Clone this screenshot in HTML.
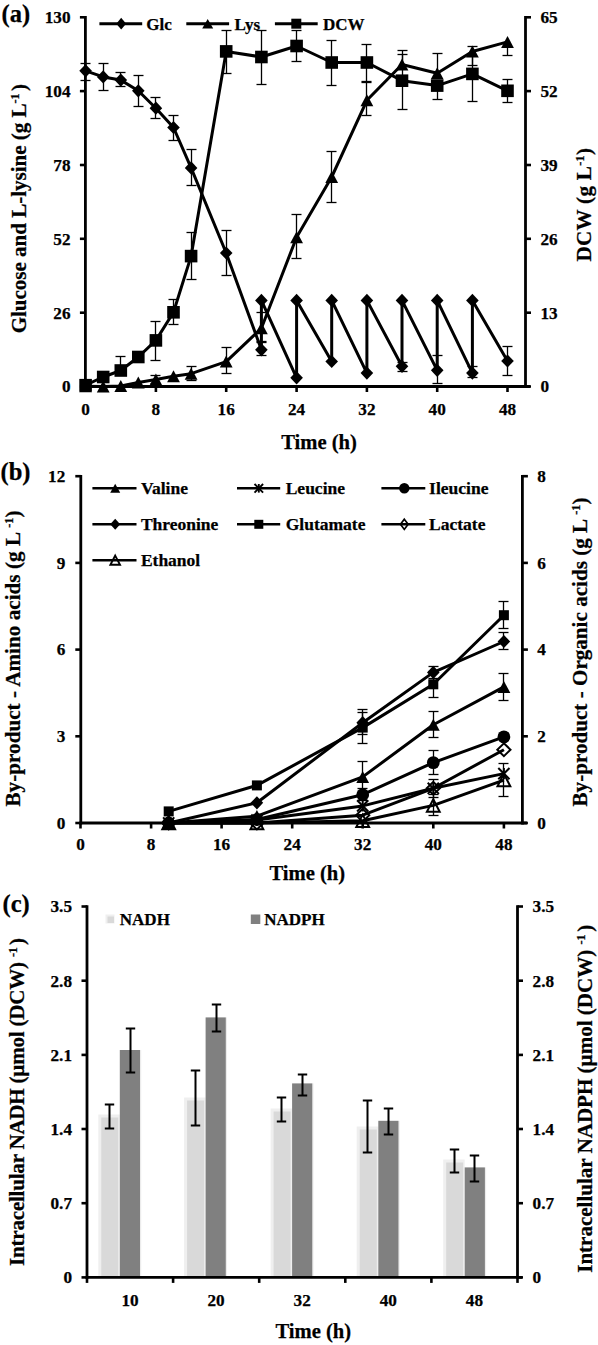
<!DOCTYPE html>
<html><head><meta charset="utf-8"><style>
html,body{margin:0;padding:0;background:#fff;}
svg{display:block;}
text{font-family:"Liberation Serif", serif;font-weight:bold;fill:#000;stroke:#000;stroke-width:0.25px;}
</style></head><body>
<svg width="598" height="1345" viewBox="0 0 598 1345">
<rect x="0" y="0" width="598" height="1345" fill="#fff"/>
<line x1="85.4" y1="16.0" x2="85.4" y2="387.9" stroke="#000" stroke-width="2.8"/>
<line x1="525.5" y1="16.0" x2="525.5" y2="387.9" stroke="#000" stroke-width="2.8"/>
<line x1="84.0" y1="386.5" x2="530.0" y2="386.5" stroke="#000" stroke-width="2.8"/>
<line x1="79.9" y1="386.5" x2="85.4" y2="386.5" stroke="#000" stroke-width="2.6"/>
<line x1="525.5" y1="386.5" x2="531.0" y2="386.5" stroke="#000" stroke-width="2.6"/>
<text x="70.5" y="392.3" font-size="17.2" text-anchor="end" >0</text>
<text x="540.5" y="392.3" font-size="17.2" text-anchor="start" >0</text>
<line x1="79.9" y1="312.7" x2="85.4" y2="312.7" stroke="#000" stroke-width="2.6"/>
<line x1="525.5" y1="312.7" x2="531.0" y2="312.7" stroke="#000" stroke-width="2.6"/>
<text x="70.5" y="318.5" font-size="17.2" text-anchor="end" >26</text>
<text x="540.5" y="318.5" font-size="17.2" text-anchor="start" >13</text>
<line x1="79.9" y1="238.8" x2="85.4" y2="238.8" stroke="#000" stroke-width="2.6"/>
<line x1="525.5" y1="238.8" x2="531.0" y2="238.8" stroke="#000" stroke-width="2.6"/>
<text x="70.5" y="244.6" font-size="17.2" text-anchor="end" >52</text>
<text x="540.5" y="244.6" font-size="17.2" text-anchor="start" >26</text>
<line x1="79.9" y1="165.0" x2="85.4" y2="165.0" stroke="#000" stroke-width="2.6"/>
<line x1="525.5" y1="165.0" x2="531.0" y2="165.0" stroke="#000" stroke-width="2.6"/>
<text x="70.5" y="170.8" font-size="17.2" text-anchor="end" >78</text>
<text x="540.5" y="170.8" font-size="17.2" text-anchor="start" >39</text>
<line x1="79.9" y1="91.1" x2="85.4" y2="91.1" stroke="#000" stroke-width="2.6"/>
<line x1="525.5" y1="91.1" x2="531.0" y2="91.1" stroke="#000" stroke-width="2.6"/>
<text x="70.5" y="96.9" font-size="17.2" text-anchor="end" >104</text>
<text x="540.5" y="96.9" font-size="17.2" text-anchor="start" >52</text>
<line x1="79.9" y1="17.3" x2="85.4" y2="17.3" stroke="#000" stroke-width="2.6"/>
<line x1="525.5" y1="17.3" x2="531.0" y2="17.3" stroke="#000" stroke-width="2.6"/>
<text x="70.5" y="23.1" font-size="17.2" text-anchor="end" >130</text>
<text x="540.5" y="23.1" font-size="17.2" text-anchor="start" >65</text>
<line x1="85.6" y1="386.5" x2="85.6" y2="392.0" stroke="#000" stroke-width="2.6"/>
<text x="85.6" y="415.0" font-size="17.2" text-anchor="middle" >0</text>
<line x1="155.9" y1="386.5" x2="155.9" y2="392.0" stroke="#000" stroke-width="2.6"/>
<text x="155.9" y="415.0" font-size="17.2" text-anchor="middle" >8</text>
<line x1="226.2" y1="386.5" x2="226.2" y2="392.0" stroke="#000" stroke-width="2.6"/>
<text x="226.2" y="415.0" font-size="17.2" text-anchor="middle" >16</text>
<line x1="296.6" y1="386.5" x2="296.6" y2="392.0" stroke="#000" stroke-width="2.6"/>
<text x="296.6" y="415.0" font-size="17.2" text-anchor="middle" >24</text>
<line x1="366.9" y1="386.5" x2="366.9" y2="392.0" stroke="#000" stroke-width="2.6"/>
<text x="366.9" y="415.0" font-size="17.2" text-anchor="middle" >32</text>
<line x1="437.2" y1="386.5" x2="437.2" y2="392.0" stroke="#000" stroke-width="2.6"/>
<text x="437.2" y="415.0" font-size="17.2" text-anchor="middle" >40</text>
<line x1="507.5" y1="386.5" x2="507.5" y2="392.0" stroke="#000" stroke-width="2.6"/>
<text x="507.5" y="415.0" font-size="17.2" text-anchor="middle" >48</text>
<text x="319.0" y="449.0" font-size="20.6" text-anchor="middle" >Time (h)</text>
<text x="1.5" y="21.6" font-size="24.5" text-anchor="start" >(a)</text>
<text transform="translate(25.6,208.6) rotate(-90)" font-size="21.1" text-anchor="middle"  textLength="249.5" lengthAdjust="spacing">Glucose and L-lysine (g L<tspan font-size="0.58em" dy="-0.57em">-1</tspan><tspan dy="0.33em" dx="2.5">)</tspan></text>
<text transform="translate(590.8,204.8) rotate(-90)" font-size="21.1" text-anchor="middle"  textLength="113.5" lengthAdjust="spacing">DCW (g L<tspan font-size="0.58em" dy="-0.57em">-1</tspan><tspan dy="0.33em" dx="0">)</tspan></text>
<line x1="80.5" y1="63.5" x2="90.5" y2="63.5" stroke="#000" stroke-width="1.3"/>
<line x1="80.5" y1="80.5" x2="90.5" y2="80.5" stroke="#000" stroke-width="1.3"/>
<line x1="85.5" y1="63.5" x2="85.5" y2="80.5" stroke="#000" stroke-width="1.3"/>
<line x1="98.5" y1="63.5" x2="108.5" y2="63.5" stroke="#000" stroke-width="1.3"/>
<line x1="98.5" y1="90.5" x2="108.5" y2="90.5" stroke="#000" stroke-width="1.3"/>
<line x1="103.5" y1="63.5" x2="103.5" y2="90.5" stroke="#000" stroke-width="1.3"/>
<line x1="115.5" y1="72.5" x2="125.5" y2="72.5" stroke="#000" stroke-width="1.3"/>
<line x1="115.5" y1="86.5" x2="125.5" y2="86.5" stroke="#000" stroke-width="1.3"/>
<line x1="120.5" y1="72.5" x2="120.5" y2="86.5" stroke="#000" stroke-width="1.3"/>
<line x1="133.5" y1="75.5" x2="143.5" y2="75.5" stroke="#000" stroke-width="1.3"/>
<line x1="133.5" y1="106.5" x2="143.5" y2="106.5" stroke="#000" stroke-width="1.3"/>
<line x1="138.5" y1="75.5" x2="138.5" y2="106.5" stroke="#000" stroke-width="1.3"/>
<line x1="150.5" y1="97.5" x2="160.5" y2="97.5" stroke="#000" stroke-width="1.3"/>
<line x1="150.5" y1="118.5" x2="160.5" y2="118.5" stroke="#000" stroke-width="1.3"/>
<line x1="155.5" y1="97.5" x2="155.5" y2="118.5" stroke="#000" stroke-width="1.3"/>
<line x1="168.5" y1="115.5" x2="178.5" y2="115.5" stroke="#000" stroke-width="1.3"/>
<line x1="168.5" y1="140.5" x2="178.5" y2="140.5" stroke="#000" stroke-width="1.3"/>
<line x1="173.5" y1="115.5" x2="173.5" y2="140.5" stroke="#000" stroke-width="1.3"/>
<line x1="186.5" y1="149.5" x2="196.5" y2="149.5" stroke="#000" stroke-width="1.3"/>
<line x1="186.5" y1="185.5" x2="196.5" y2="185.5" stroke="#000" stroke-width="1.3"/>
<line x1="191.5" y1="149.5" x2="191.5" y2="185.5" stroke="#000" stroke-width="1.3"/>
<line x1="221.5" y1="230.5" x2="231.5" y2="230.5" stroke="#000" stroke-width="1.3"/>
<line x1="221.5" y1="275.5" x2="231.5" y2="275.5" stroke="#000" stroke-width="1.3"/>
<line x1="226.5" y1="230.5" x2="226.5" y2="275.5" stroke="#000" stroke-width="1.3"/>
<line x1="256.5" y1="341.5" x2="266.5" y2="341.5" stroke="#000" stroke-width="1.3"/>
<line x1="256.5" y1="355.5" x2="266.5" y2="355.5" stroke="#000" stroke-width="1.3"/>
<line x1="261.5" y1="341.5" x2="261.5" y2="355.5" stroke="#000" stroke-width="1.3"/>
<line x1="397.5" y1="362.5" x2="407.5" y2="362.5" stroke="#000" stroke-width="1.3"/>
<line x1="397.5" y1="371.5" x2="407.5" y2="371.5" stroke="#000" stroke-width="1.3"/>
<line x1="402.5" y1="362.5" x2="402.5" y2="371.5" stroke="#000" stroke-width="1.3"/>
<line x1="432.5" y1="355.5" x2="442.5" y2="355.5" stroke="#000" stroke-width="1.3"/>
<line x1="432.5" y1="383.5" x2="442.5" y2="383.5" stroke="#000" stroke-width="1.3"/>
<line x1="437.5" y1="355.5" x2="437.5" y2="383.5" stroke="#000" stroke-width="1.3"/>
<line x1="467.5" y1="366.5" x2="477.5" y2="366.5" stroke="#000" stroke-width="1.3"/>
<line x1="467.5" y1="377.5" x2="477.5" y2="377.5" stroke="#000" stroke-width="1.3"/>
<line x1="472.5" y1="366.5" x2="472.5" y2="377.5" stroke="#000" stroke-width="1.3"/>
<line x1="502.5" y1="346.5" x2="512.5" y2="346.5" stroke="#000" stroke-width="1.3"/>
<line x1="502.5" y1="375.5" x2="512.5" y2="375.5" stroke="#000" stroke-width="1.3"/>
<line x1="507.5" y1="346.5" x2="507.5" y2="375.5" stroke="#000" stroke-width="1.3"/>
<line x1="150.5" y1="375.5" x2="160.5" y2="375.5" stroke="#000" stroke-width="1.3"/>
<line x1="150.5" y1="383.5" x2="160.5" y2="383.5" stroke="#000" stroke-width="1.3"/>
<line x1="155.5" y1="375.5" x2="155.5" y2="383.5" stroke="#000" stroke-width="1.3"/>
<line x1="186.5" y1="366.5" x2="196.5" y2="366.5" stroke="#000" stroke-width="1.3"/>
<line x1="186.5" y1="380.5" x2="196.5" y2="380.5" stroke="#000" stroke-width="1.3"/>
<line x1="191.5" y1="366.5" x2="191.5" y2="380.5" stroke="#000" stroke-width="1.3"/>
<line x1="221.5" y1="347.5" x2="231.5" y2="347.5" stroke="#000" stroke-width="1.3"/>
<line x1="221.5" y1="373.5" x2="231.5" y2="373.5" stroke="#000" stroke-width="1.3"/>
<line x1="226.5" y1="347.5" x2="226.5" y2="373.5" stroke="#000" stroke-width="1.3"/>
<line x1="256.5" y1="312.5" x2="266.5" y2="312.5" stroke="#000" stroke-width="1.3"/>
<line x1="256.5" y1="342.5" x2="266.5" y2="342.5" stroke="#000" stroke-width="1.3"/>
<line x1="261.5" y1="312.5" x2="261.5" y2="342.5" stroke="#000" stroke-width="1.3"/>
<line x1="291.5" y1="214.5" x2="301.5" y2="214.5" stroke="#000" stroke-width="1.3"/>
<line x1="291.5" y1="258.5" x2="301.5" y2="258.5" stroke="#000" stroke-width="1.3"/>
<line x1="296.5" y1="214.5" x2="296.5" y2="258.5" stroke="#000" stroke-width="1.3"/>
<line x1="326.5" y1="151.5" x2="336.5" y2="151.5" stroke="#000" stroke-width="1.3"/>
<line x1="326.5" y1="202.5" x2="336.5" y2="202.5" stroke="#000" stroke-width="1.3"/>
<line x1="331.5" y1="151.5" x2="331.5" y2="202.5" stroke="#000" stroke-width="1.3"/>
<line x1="361.5" y1="81.5" x2="371.5" y2="81.5" stroke="#000" stroke-width="1.3"/>
<line x1="361.5" y1="115.5" x2="371.5" y2="115.5" stroke="#000" stroke-width="1.3"/>
<line x1="366.5" y1="81.5" x2="366.5" y2="115.5" stroke="#000" stroke-width="1.3"/>
<line x1="397.5" y1="50.5" x2="407.5" y2="50.5" stroke="#000" stroke-width="1.3"/>
<line x1="402.5" y1="50.5" x2="402.5" y2="64.5" stroke="#000" stroke-width="1.3"/>
<line x1="432.5" y1="53.5" x2="442.5" y2="53.5" stroke="#000" stroke-width="1.3"/>
<line x1="437.5" y1="53.5" x2="437.5" y2="73.2" stroke="#000" stroke-width="1.3"/>
<line x1="467.5" y1="65.5" x2="477.5" y2="65.5" stroke="#000" stroke-width="1.3"/>
<line x1="472.5" y1="51.5" x2="472.5" y2="65.5" stroke="#000" stroke-width="1.3"/>
<line x1="502.5" y1="55.5" x2="512.5" y2="55.5" stroke="#000" stroke-width="1.3"/>
<line x1="507.5" y1="41.9" x2="507.5" y2="55.5" stroke="#000" stroke-width="1.3"/>
<line x1="115.5" y1="356.5" x2="125.5" y2="356.5" stroke="#000" stroke-width="1.3"/>
<line x1="120.5" y1="356.5" x2="120.5" y2="370.5" stroke="#000" stroke-width="1.3"/>
<line x1="150.5" y1="321.5" x2="160.5" y2="321.5" stroke="#000" stroke-width="1.3"/>
<line x1="150.5" y1="360.5" x2="160.5" y2="360.5" stroke="#000" stroke-width="1.3"/>
<line x1="155.5" y1="321.5" x2="155.5" y2="360.5" stroke="#000" stroke-width="1.3"/>
<line x1="168.5" y1="299.5" x2="178.5" y2="299.5" stroke="#000" stroke-width="1.3"/>
<line x1="168.5" y1="324.5" x2="178.5" y2="324.5" stroke="#000" stroke-width="1.3"/>
<line x1="173.5" y1="299.5" x2="173.5" y2="324.5" stroke="#000" stroke-width="1.3"/>
<line x1="186.5" y1="232.5" x2="196.5" y2="232.5" stroke="#000" stroke-width="1.3"/>
<line x1="186.5" y1="279.5" x2="196.5" y2="279.5" stroke="#000" stroke-width="1.3"/>
<line x1="191.5" y1="232.5" x2="191.5" y2="279.5" stroke="#000" stroke-width="1.3"/>
<line x1="221.5" y1="30.5" x2="231.5" y2="30.5" stroke="#000" stroke-width="1.3"/>
<line x1="221.5" y1="73.5" x2="231.5" y2="73.5" stroke="#000" stroke-width="1.3"/>
<line x1="226.5" y1="30.5" x2="226.5" y2="73.5" stroke="#000" stroke-width="1.3"/>
<line x1="256.5" y1="30.5" x2="266.5" y2="30.5" stroke="#000" stroke-width="1.3"/>
<line x1="256.5" y1="84.5" x2="266.5" y2="84.5" stroke="#000" stroke-width="1.3"/>
<line x1="261.5" y1="30.5" x2="261.5" y2="84.5" stroke="#000" stroke-width="1.3"/>
<line x1="291.5" y1="30.5" x2="301.5" y2="30.5" stroke="#000" stroke-width="1.3"/>
<line x1="291.5" y1="61.5" x2="301.5" y2="61.5" stroke="#000" stroke-width="1.3"/>
<line x1="296.5" y1="30.5" x2="296.5" y2="61.5" stroke="#000" stroke-width="1.3"/>
<line x1="326.5" y1="40.5" x2="336.5" y2="40.5" stroke="#000" stroke-width="1.3"/>
<line x1="326.5" y1="85.5" x2="336.5" y2="85.5" stroke="#000" stroke-width="1.3"/>
<line x1="331.5" y1="40.5" x2="331.5" y2="85.5" stroke="#000" stroke-width="1.3"/>
<line x1="361.5" y1="44.5" x2="371.5" y2="44.5" stroke="#000" stroke-width="1.3"/>
<line x1="361.5" y1="82.5" x2="371.5" y2="82.5" stroke="#000" stroke-width="1.3"/>
<line x1="366.5" y1="44.5" x2="366.5" y2="82.5" stroke="#000" stroke-width="1.3"/>
<line x1="397.5" y1="54.5" x2="407.5" y2="54.5" stroke="#000" stroke-width="1.3"/>
<line x1="397.5" y1="109.5" x2="407.5" y2="109.5" stroke="#000" stroke-width="1.3"/>
<line x1="402.5" y1="54.5" x2="402.5" y2="109.5" stroke="#000" stroke-width="1.3"/>
<line x1="432.5" y1="99.5" x2="442.5" y2="99.5" stroke="#000" stroke-width="1.3"/>
<line x1="437.5" y1="85.6" x2="437.5" y2="99.5" stroke="#000" stroke-width="1.3"/>
<line x1="467.5" y1="46.5" x2="477.5" y2="46.5" stroke="#000" stroke-width="1.3"/>
<line x1="467.5" y1="101.5" x2="477.5" y2="101.5" stroke="#000" stroke-width="1.3"/>
<line x1="472.5" y1="46.5" x2="472.5" y2="101.5" stroke="#000" stroke-width="1.3"/>
<line x1="502.5" y1="79.5" x2="512.5" y2="79.5" stroke="#000" stroke-width="1.3"/>
<line x1="502.5" y1="102.5" x2="512.5" y2="102.5" stroke="#000" stroke-width="1.3"/>
<line x1="507.5" y1="79.5" x2="507.5" y2="102.5" stroke="#000" stroke-width="1.3"/>
<polyline points="85.6,70.8 103.2,76.9 120.8,80.1 138.3,90.8 155.9,108.2 173.5,127.5 191.1,167.9 226.2,253.0 261.4,349.8 261.4,300.4 296.6,377.8 296.6,300.4 331.7,361.5 331.7,300.4 366.9,373.1 366.9,300.4 402.0,366.3 402.0,300.4 437.2,370.3 437.2,300.4 472.4,373.1 472.4,300.4 507.5,361.0" fill="none" stroke="#000" stroke-width="3.0" stroke-linejoin="round"/>
<polyline points="85.6,386.3 103.2,386.5 120.8,386.0 138.3,382.5 155.9,379.5 173.5,376.3 191.1,373.7 226.2,361.6 261.4,328.2 296.6,237.3 331.7,177.0 366.9,100.3 402.0,64.5 437.2,73.2 472.4,51.5 507.5,41.9" fill="none" stroke="#000" stroke-width="3.0" stroke-linejoin="round"/>
<polyline points="85.6,385.2 103.2,377.0 120.8,370.5 138.3,357.0 155.9,340.4 173.5,312.3 191.1,256.1 226.2,51.4 261.4,57.0 296.6,46.0 331.7,62.5 366.9,62.5 402.0,80.7 437.2,85.6 472.4,73.9 507.5,90.8" fill="none" stroke="#000" stroke-width="3.0" stroke-linejoin="round"/>
<polygon points="85.6,64.2 91.9,70.8 85.6,77.4 79.3,70.8" fill="#000"/>
<polygon points="103.2,70.3 109.5,76.9 103.2,83.5 96.9,76.9" fill="#000"/>
<polygon points="120.8,73.5 127.1,80.1 120.8,86.7 114.5,80.1" fill="#000"/>
<polygon points="138.3,84.2 144.6,90.8 138.3,97.4 132.0,90.8" fill="#000"/>
<polygon points="155.9,101.6 162.2,108.2 155.9,114.8 149.6,108.2" fill="#000"/>
<polygon points="173.5,120.9 179.8,127.5 173.5,134.1 167.2,127.5" fill="#000"/>
<polygon points="191.1,161.3 197.4,167.9 191.1,174.5 184.8,167.9" fill="#000"/>
<polygon points="226.2,246.4 232.5,253.0 226.2,259.6 219.9,253.0" fill="#000"/>
<polygon points="261.4,343.2 267.7,349.8 261.4,356.4 255.1,349.8" fill="#000"/>
<polygon points="261.4,293.8 267.7,300.4 261.4,307.0 255.1,300.4" fill="#000"/>
<polygon points="296.6,371.2 302.9,377.8 296.6,384.4 290.3,377.8" fill="#000"/>
<polygon points="296.6,293.8 302.9,300.4 296.6,307.0 290.3,300.4" fill="#000"/>
<polygon points="331.7,354.9 338.0,361.5 331.7,368.1 325.4,361.5" fill="#000"/>
<polygon points="331.7,293.8 338.0,300.4 331.7,307.0 325.4,300.4" fill="#000"/>
<polygon points="366.9,366.5 373.2,373.1 366.9,379.7 360.6,373.1" fill="#000"/>
<polygon points="366.9,293.8 373.2,300.4 366.9,307.0 360.6,300.4" fill="#000"/>
<polygon points="402.0,359.7 408.3,366.3 402.0,372.9 395.7,366.3" fill="#000"/>
<polygon points="402.0,293.8 408.3,300.4 402.0,307.0 395.7,300.4" fill="#000"/>
<polygon points="437.2,363.7 443.5,370.3 437.2,376.9 430.9,370.3" fill="#000"/>
<polygon points="437.2,293.8 443.5,300.4 437.2,307.0 430.9,300.4" fill="#000"/>
<polygon points="472.4,366.5 478.7,373.1 472.4,379.7 466.1,373.1" fill="#000"/>
<polygon points="472.4,293.8 478.7,300.4 472.4,307.0 466.1,300.4" fill="#000"/>
<polygon points="507.5,354.4 513.8,361.0 507.5,367.6 501.2,361.0" fill="#000"/>
<polygon points="85.6,380.3 92.0,392.3 79.2,392.3" fill="#000"/>
<polygon points="103.2,380.5 109.6,392.5 96.8,392.5" fill="#000"/>
<polygon points="120.8,380.0 127.2,392.0 114.4,392.0" fill="#000"/>
<polygon points="138.3,376.5 144.7,388.5 131.9,388.5" fill="#000"/>
<polygon points="155.9,373.5 162.3,385.5 149.5,385.5" fill="#000"/>
<polygon points="173.5,370.3 179.9,382.3 167.1,382.3" fill="#000"/>
<polygon points="191.1,367.7 197.5,379.7 184.7,379.7" fill="#000"/>
<polygon points="226.2,355.6 232.6,367.6 219.8,367.6" fill="#000"/>
<polygon points="261.4,322.2 267.8,334.2 255.0,334.2" fill="#000"/>
<polygon points="296.6,231.3 303.0,243.3 290.2,243.3" fill="#000"/>
<polygon points="331.7,171.0 338.1,183.0 325.3,183.0" fill="#000"/>
<polygon points="366.9,94.3 373.3,106.3 360.5,106.3" fill="#000"/>
<polygon points="402.0,58.5 408.4,70.5 395.6,70.5" fill="#000"/>
<polygon points="437.2,67.2 443.6,79.2 430.8,79.2" fill="#000"/>
<polygon points="472.4,45.5 478.8,57.5 466.0,57.5" fill="#000"/>
<polygon points="507.5,35.9 513.9,47.9 501.1,47.9" fill="#000"/>
<rect x="79.3" y="378.9" width="12.6" height="12.6" fill="#000"/>
<rect x="96.9" y="370.7" width="12.6" height="12.6" fill="#000"/>
<rect x="114.5" y="364.2" width="12.6" height="12.6" fill="#000"/>
<rect x="132.0" y="350.7" width="12.6" height="12.6" fill="#000"/>
<rect x="149.6" y="334.1" width="12.6" height="12.6" fill="#000"/>
<rect x="167.2" y="306.0" width="12.6" height="12.6" fill="#000"/>
<rect x="184.8" y="249.8" width="12.6" height="12.6" fill="#000"/>
<rect x="219.9" y="45.1" width="12.6" height="12.6" fill="#000"/>
<rect x="255.1" y="50.7" width="12.6" height="12.6" fill="#000"/>
<rect x="290.3" y="39.7" width="12.6" height="12.6" fill="#000"/>
<rect x="325.4" y="56.2" width="12.6" height="12.6" fill="#000"/>
<rect x="360.6" y="56.2" width="12.6" height="12.6" fill="#000"/>
<rect x="395.7" y="74.4" width="12.6" height="12.6" fill="#000"/>
<rect x="430.9" y="79.3" width="12.6" height="12.6" fill="#000"/>
<rect x="466.1" y="67.6" width="12.6" height="12.6" fill="#000"/>
<rect x="501.2" y="84.5" width="12.6" height="12.6" fill="#000"/>
<line x1="99.4" y1="23.7" x2="142.2" y2="23.7" stroke="#000" stroke-width="3"/>
<polygon points="121.2,17.8 126.1,23.7 121.2,29.6 116.3,23.7" fill="#000"/>
<text x="146.2" y="29.6" font-size="17" text-anchor="start" >Glc</text>
<line x1="186.3" y1="23.7" x2="229.1" y2="23.7" stroke="#000" stroke-width="3"/>
<polygon points="207.7,18.9 213.2,28.4 202.2,28.4" fill="#000"/>
<text x="234.5" y="29.6" font-size="17" text-anchor="start" >Lys</text>
<line x1="274.9" y1="23.7" x2="317.7" y2="23.7" stroke="#000" stroke-width="3"/>
<rect x="291.3" y="18.7" width="10" height="10" fill="#000"/>
<text x="323.0" y="29.6" font-size="17" text-anchor="start" >DCW</text>
<line x1="80.8" y1="474.9" x2="80.8" y2="824.4" stroke="#000" stroke-width="2.8"/>
<line x1="522.4" y1="474.9" x2="522.4" y2="824.4" stroke="#000" stroke-width="2.8"/>
<line x1="79.4" y1="823.0" x2="526.9" y2="823.0" stroke="#000" stroke-width="2.8"/>
<line x1="75.3" y1="823.0" x2="80.8" y2="823.0" stroke="#000" stroke-width="2.6"/>
<line x1="522.4" y1="823.0" x2="527.9" y2="823.0" stroke="#000" stroke-width="2.6"/>
<text x="65.3" y="828.8" font-size="17.2" text-anchor="end" >0</text>
<text x="537.2" y="828.8" font-size="17.2" text-anchor="start" >0</text>
<line x1="75.3" y1="736.3" x2="80.8" y2="736.3" stroke="#000" stroke-width="2.6"/>
<line x1="522.4" y1="736.3" x2="527.9" y2="736.3" stroke="#000" stroke-width="2.6"/>
<text x="65.3" y="742.1" font-size="17.2" text-anchor="end" >3</text>
<text x="537.2" y="742.1" font-size="17.2" text-anchor="start" >2</text>
<line x1="75.3" y1="649.6" x2="80.8" y2="649.6" stroke="#000" stroke-width="2.6"/>
<line x1="522.4" y1="649.6" x2="527.9" y2="649.6" stroke="#000" stroke-width="2.6"/>
<text x="65.3" y="655.4" font-size="17.2" text-anchor="end" >6</text>
<text x="537.2" y="655.4" font-size="17.2" text-anchor="start" >4</text>
<line x1="75.3" y1="562.9" x2="80.8" y2="562.9" stroke="#000" stroke-width="2.6"/>
<line x1="522.4" y1="562.9" x2="527.9" y2="562.9" stroke="#000" stroke-width="2.6"/>
<text x="65.3" y="568.7" font-size="17.2" text-anchor="end" >9</text>
<text x="537.2" y="568.7" font-size="17.2" text-anchor="start" >6</text>
<line x1="75.3" y1="476.2" x2="80.8" y2="476.2" stroke="#000" stroke-width="2.6"/>
<line x1="522.4" y1="476.2" x2="527.9" y2="476.2" stroke="#000" stroke-width="2.6"/>
<text x="65.3" y="482.0" font-size="17.2" text-anchor="end" >12</text>
<text x="537.2" y="482.0" font-size="17.2" text-anchor="start" >8</text>
<line x1="80.5" y1="823.0" x2="80.5" y2="828.5" stroke="#000" stroke-width="2.6"/>
<text x="80.5" y="849.5" font-size="17.2" text-anchor="middle" >0</text>
<line x1="151.1" y1="823.0" x2="151.1" y2="828.5" stroke="#000" stroke-width="2.6"/>
<text x="151.1" y="849.5" font-size="17.2" text-anchor="middle" >8</text>
<line x1="221.6" y1="823.0" x2="221.6" y2="828.5" stroke="#000" stroke-width="2.6"/>
<text x="221.6" y="849.5" font-size="17.2" text-anchor="middle" >16</text>
<line x1="292.2" y1="823.0" x2="292.2" y2="828.5" stroke="#000" stroke-width="2.6"/>
<text x="292.2" y="849.5" font-size="17.2" text-anchor="middle" >24</text>
<line x1="362.7" y1="823.0" x2="362.7" y2="828.5" stroke="#000" stroke-width="2.6"/>
<text x="362.7" y="849.5" font-size="17.2" text-anchor="middle" >32</text>
<line x1="433.3" y1="823.0" x2="433.3" y2="828.5" stroke="#000" stroke-width="2.6"/>
<text x="433.3" y="849.5" font-size="17.2" text-anchor="middle" >40</text>
<line x1="503.9" y1="823.0" x2="503.9" y2="828.5" stroke="#000" stroke-width="2.6"/>
<text x="503.9" y="849.5" font-size="17.2" text-anchor="middle" >48</text>
<text x="307.3" y="880.2" font-size="20.6" text-anchor="middle" >Time (h)</text>
<text x="0.5" y="480.3" font-size="24.5" text-anchor="start" >(b)</text>
<text transform="translate(20.3,658.5) rotate(-90)" font-size="21.1" text-anchor="middle"  textLength="296" lengthAdjust="spacing">By-product - Amino acids (g L <tspan font-size="0.58em" dy="-0.57em">-1</tspan><tspan dy="0.33em" dx="0">)</tspan></text>
<text transform="translate(587.2,652.0) rotate(-90)" font-size="21.1" text-anchor="middle"  textLength="309" lengthAdjust="spacing">By-product - Organic acids (g L <tspan font-size="0.58em" dy="-0.57em">-1</tspan><tspan dy="0.33em" dx="0">)</tspan></text>
<line x1="357.5" y1="761.5" x2="367.5" y2="761.5" stroke="#000" stroke-width="1.3"/>
<line x1="357.5" y1="792.5" x2="367.5" y2="792.5" stroke="#000" stroke-width="1.3"/>
<line x1="362.5" y1="761.5" x2="362.5" y2="792.5" stroke="#000" stroke-width="1.3"/>
<line x1="428.5" y1="711.5" x2="438.5" y2="711.5" stroke="#000" stroke-width="1.3"/>
<line x1="428.5" y1="737.5" x2="438.5" y2="737.5" stroke="#000" stroke-width="1.3"/>
<line x1="433.5" y1="711.5" x2="433.5" y2="737.5" stroke="#000" stroke-width="1.3"/>
<line x1="498.5" y1="673.5" x2="508.5" y2="673.5" stroke="#000" stroke-width="1.3"/>
<line x1="498.5" y1="700.5" x2="508.5" y2="700.5" stroke="#000" stroke-width="1.3"/>
<line x1="503.5" y1="673.5" x2="503.5" y2="700.5" stroke="#000" stroke-width="1.3"/>
<line x1="428.5" y1="779.5" x2="438.5" y2="779.5" stroke="#000" stroke-width="1.3"/>
<line x1="428.5" y1="797.5" x2="438.5" y2="797.5" stroke="#000" stroke-width="1.3"/>
<line x1="433.5" y1="779.5" x2="433.5" y2="797.5" stroke="#000" stroke-width="1.3"/>
<line x1="357.5" y1="788.5" x2="367.5" y2="788.5" stroke="#000" stroke-width="1.3"/>
<line x1="357.5" y1="800.5" x2="367.5" y2="800.5" stroke="#000" stroke-width="1.3"/>
<line x1="362.5" y1="788.5" x2="362.5" y2="800.5" stroke="#000" stroke-width="1.3"/>
<line x1="428.5" y1="750.5" x2="438.5" y2="750.5" stroke="#000" stroke-width="1.3"/>
<line x1="428.5" y1="774.5" x2="438.5" y2="774.5" stroke="#000" stroke-width="1.3"/>
<line x1="433.5" y1="750.5" x2="433.5" y2="774.5" stroke="#000" stroke-width="1.3"/>
<line x1="357.5" y1="709.5" x2="367.5" y2="709.5" stroke="#000" stroke-width="1.3"/>
<line x1="357.5" y1="734.5" x2="367.5" y2="734.5" stroke="#000" stroke-width="1.3"/>
<line x1="362.5" y1="709.5" x2="362.5" y2="734.5" stroke="#000" stroke-width="1.3"/>
<line x1="428.5" y1="666.5" x2="438.5" y2="666.5" stroke="#000" stroke-width="1.3"/>
<line x1="428.5" y1="678.5" x2="438.5" y2="678.5" stroke="#000" stroke-width="1.3"/>
<line x1="433.5" y1="666.5" x2="433.5" y2="678.5" stroke="#000" stroke-width="1.3"/>
<line x1="498.5" y1="632.5" x2="508.5" y2="632.5" stroke="#000" stroke-width="1.3"/>
<line x1="498.5" y1="649.5" x2="508.5" y2="649.5" stroke="#000" stroke-width="1.3"/>
<line x1="503.5" y1="632.5" x2="503.5" y2="649.5" stroke="#000" stroke-width="1.3"/>
<line x1="357.5" y1="712.5" x2="367.5" y2="712.5" stroke="#000" stroke-width="1.3"/>
<line x1="357.5" y1="743.5" x2="367.5" y2="743.5" stroke="#000" stroke-width="1.3"/>
<line x1="362.5" y1="712.5" x2="362.5" y2="743.5" stroke="#000" stroke-width="1.3"/>
<line x1="428.5" y1="671.5" x2="438.5" y2="671.5" stroke="#000" stroke-width="1.3"/>
<line x1="428.5" y1="697.5" x2="438.5" y2="697.5" stroke="#000" stroke-width="1.3"/>
<line x1="433.5" y1="671.5" x2="433.5" y2="697.5" stroke="#000" stroke-width="1.3"/>
<line x1="498.5" y1="601.5" x2="508.5" y2="601.5" stroke="#000" stroke-width="1.3"/>
<line x1="498.5" y1="628.5" x2="508.5" y2="628.5" stroke="#000" stroke-width="1.3"/>
<line x1="503.5" y1="601.5" x2="503.5" y2="628.5" stroke="#000" stroke-width="1.3"/>
<line x1="428.5" y1="794.5" x2="438.5" y2="794.5" stroke="#000" stroke-width="1.3"/>
<line x1="428.5" y1="815.5" x2="438.5" y2="815.5" stroke="#000" stroke-width="1.3"/>
<line x1="433.5" y1="794.5" x2="433.5" y2="815.5" stroke="#000" stroke-width="1.3"/>
<line x1="498.5" y1="763.5" x2="508.5" y2="763.5" stroke="#000" stroke-width="1.3"/>
<line x1="498.5" y1="796.5" x2="508.5" y2="796.5" stroke="#000" stroke-width="1.3"/>
<line x1="503.5" y1="763.5" x2="503.5" y2="796.5" stroke="#000" stroke-width="1.3"/>
<polyline points="168.7,823.0 256.9,816.1 362.7,776.9 433.3,724.7 503.9,686.9" fill="none" stroke="#000" stroke-width="3.0" stroke-linejoin="round"/>
<polyline points="168.7,823.0 256.9,820.1 362.7,805.9 433.3,788.3 503.9,773.6" fill="none" stroke="#000" stroke-width="3.0" stroke-linejoin="round"/>
<polyline points="168.7,823.0 256.9,819.5 362.7,794.7 433.3,762.6 503.9,736.9" fill="none" stroke="#000" stroke-width="3.0" stroke-linejoin="round"/>
<polyline points="168.7,823.0 256.9,802.8 362.7,722.7 433.3,672.4 503.9,641.5" fill="none" stroke="#000" stroke-width="3.0" stroke-linejoin="round"/>
<polyline points="168.7,811.4 256.9,785.4 362.7,727.6 433.3,684.3 503.9,615.2" fill="none" stroke="#000" stroke-width="3.0" stroke-linejoin="round"/>
<polyline points="168.7,823.0 256.9,823.0 362.7,815.2 433.3,788.3 503.9,749.7" fill="none" stroke="#000" stroke-width="3.0" stroke-linejoin="round"/>
<polyline points="168.7,823.0 256.9,823.0 362.7,820.8 433.3,805.4 503.9,780.1" fill="none" stroke="#000" stroke-width="3.0" stroke-linejoin="round"/>
<polygon points="168.7,817.0 175.1,829.0 162.3,829.0" fill="#000"/>
<polygon points="256.9,810.1 263.3,822.1 250.5,822.1" fill="#000"/>
<polygon points="362.7,770.9 369.1,782.9 356.3,782.9" fill="#000"/>
<polygon points="433.3,718.7 439.7,730.7 426.9,730.7" fill="#000"/>
<polygon points="503.9,680.9 510.3,692.9 497.5,692.9" fill="#000"/>
<line x1="163.1" y1="817.4" x2="174.3" y2="828.6" stroke="#000" stroke-width="2.0"/>
<line x1="163.1" y1="828.6" x2="174.3" y2="817.4" stroke="#000" stroke-width="2.0"/>
<line x1="168.7" y1="817.4" x2="168.7" y2="828.6" stroke="#000" stroke-width="2.0"/>
<line x1="251.3" y1="814.5" x2="262.5" y2="825.7" stroke="#000" stroke-width="2.0"/>
<line x1="251.3" y1="825.7" x2="262.5" y2="814.5" stroke="#000" stroke-width="2.0"/>
<line x1="256.9" y1="814.5" x2="256.9" y2="825.7" stroke="#000" stroke-width="2.0"/>
<line x1="357.1" y1="800.3" x2="368.3" y2="811.5" stroke="#000" stroke-width="2.0"/>
<line x1="357.1" y1="811.5" x2="368.3" y2="800.3" stroke="#000" stroke-width="2.0"/>
<line x1="362.7" y1="800.3" x2="362.7" y2="811.5" stroke="#000" stroke-width="2.0"/>
<line x1="427.7" y1="782.7" x2="438.9" y2="793.9" stroke="#000" stroke-width="2.0"/>
<line x1="427.7" y1="793.9" x2="438.9" y2="782.7" stroke="#000" stroke-width="2.0"/>
<line x1="433.3" y1="782.7" x2="433.3" y2="793.9" stroke="#000" stroke-width="2.0"/>
<line x1="498.3" y1="768.0" x2="509.5" y2="779.2" stroke="#000" stroke-width="2.0"/>
<line x1="498.3" y1="779.2" x2="509.5" y2="768.0" stroke="#000" stroke-width="2.0"/>
<line x1="503.9" y1="768.0" x2="503.9" y2="779.2" stroke="#000" stroke-width="2.0"/>
<circle cx="168.7" cy="823.0" r="6.4" fill="#000"/>
<circle cx="256.9" cy="819.5" r="6.4" fill="#000"/>
<circle cx="362.7" cy="794.7" r="6.4" fill="#000"/>
<circle cx="433.3" cy="762.6" r="6.4" fill="#000"/>
<circle cx="503.9" cy="736.9" r="6.4" fill="#000"/>
<polygon points="168.7,816.4 175.0,823.0 168.7,829.6 162.4,823.0" fill="#000"/>
<polygon points="256.9,796.2 263.2,802.8 256.9,809.4 250.6,802.8" fill="#000"/>
<polygon points="362.7,716.1 369.0,722.7 362.7,729.3 356.4,722.7" fill="#000"/>
<polygon points="433.3,665.8 439.6,672.4 433.3,679.0 427.0,672.4" fill="#000"/>
<polygon points="503.9,634.9 510.2,641.5 503.9,648.1 497.6,641.5" fill="#000"/>
<rect x="163.7" y="806.4" width="10" height="10" fill="#000"/>
<rect x="251.9" y="780.4" width="10" height="10" fill="#000"/>
<rect x="357.7" y="722.6" width="10" height="10" fill="#000"/>
<rect x="428.3" y="679.3" width="10" height="10" fill="#000"/>
<rect x="498.9" y="610.2" width="10" height="10" fill="#000"/>
<polygon points="168.7,816.6 175.3,823.0 168.7,829.4 162.1,823.0" fill="none" stroke="#000" stroke-width="2.0" stroke-linejoin="miter"/>
<polygon points="256.9,816.6 263.5,823.0 256.9,829.4 250.3,823.0" fill="none" stroke="#000" stroke-width="2.0" stroke-linejoin="miter"/>
<polygon points="362.7,808.8 369.3,815.2 362.7,821.6 356.1,815.2" fill="none" stroke="#000" stroke-width="2.0" stroke-linejoin="miter"/>
<polygon points="433.3,781.9 439.9,788.3 433.3,794.7 426.7,788.3" fill="none" stroke="#000" stroke-width="2.0" stroke-linejoin="miter"/>
<polygon points="503.9,743.3 510.5,749.7 503.9,756.1 497.3,749.7" fill="none" stroke="#000" stroke-width="2.0" stroke-linejoin="miter"/>
<polygon points="168.7,816.8 175.1,829.2 162.3,829.2" fill="none" stroke="#000" stroke-width="2.0"/>
<polygon points="256.9,816.8 263.3,829.2 250.5,829.2" fill="none" stroke="#000" stroke-width="2.0"/>
<polygon points="362.7,814.6 369.1,827.1 356.3,827.1" fill="none" stroke="#000" stroke-width="2.0"/>
<polygon points="433.3,799.2 439.7,811.7 426.9,811.7" fill="none" stroke="#000" stroke-width="2.0"/>
<polygon points="503.9,773.8 510.3,786.3 497.5,786.3" fill="none" stroke="#000" stroke-width="2.0"/>
<line x1="92.4" y1="488.3" x2="136.5" y2="488.3" stroke="#000" stroke-width="2.6"/>
<polygon points="115.2,483.8 120.2,492.8 110.2,492.8" fill="#000"/>
<text x="140.9" y="494.0" font-size="17.5" text-anchor="start" >Valine</text>
<line x1="237.0" y1="488.3" x2="280.2" y2="488.3" stroke="#000" stroke-width="2.6"/>
<line x1="254.5" y1="484.0" x2="263.1" y2="492.6" stroke="#000" stroke-width="1.9"/>
<line x1="254.5" y1="492.6" x2="263.1" y2="484.0" stroke="#000" stroke-width="1.9"/>
<line x1="258.8" y1="484.0" x2="258.8" y2="492.6" stroke="#000" stroke-width="1.9"/>
<text x="285.7" y="494.0" font-size="17.5" text-anchor="start" >Leucine</text>
<line x1="381.4" y1="488.3" x2="425.3" y2="488.3" stroke="#000" stroke-width="2.6"/>
<circle cx="404.3" cy="488.3" r="5.2" fill="#000"/>
<text x="429.1" y="494.0" font-size="17.5" text-anchor="start" >Ileucine</text>
<line x1="92.4" y1="524.3" x2="136.5" y2="524.3" stroke="#000" stroke-width="2.6"/>
<polygon points="115.2,518.8 120.2,524.3 115.2,529.8 110.2,524.3" fill="#000"/>
<text x="140.9" y="530.0" font-size="17.5" text-anchor="start" >Threonine</text>
<line x1="237.0" y1="524.3" x2="280.2" y2="524.3" stroke="#000" stroke-width="2.6"/>
<rect x="254.3" y="519.8" width="9" height="9" fill="#000"/>
<text x="285.7" y="530.0" font-size="17.5" text-anchor="start" >Glutamate</text>
<line x1="381.4" y1="524.3" x2="425.3" y2="524.3" stroke="#000" stroke-width="2.6"/>
<polygon points="404.3,519.2 408.1,524.3 404.3,529.4 400.5,524.3" fill="none" stroke="#000" stroke-width="1.7" stroke-linejoin="miter"/>
<text x="429.1" y="530.0" font-size="17.5" text-anchor="start" >Lactate</text>
<line x1="92.4" y1="560.2" x2="136.5" y2="560.2" stroke="#000" stroke-width="2.6"/>
<polygon points="115.2,555.6 120.0,564.8 110.4,564.8" fill="none" stroke="#000" stroke-width="1.9"/>
<text x="140.9" y="565.9" font-size="17.5" text-anchor="start" >Ethanol</text>
<rect x="98.3" y="1114.5" width="21.5" height="162.9" fill="#efefef"/>
<rect x="101.3" y="1117.5" width="17.0" height="159.9" fill="#d9d9d9"/>
<rect x="140.0" y="1050.0" width="1.2" height="227.4" fill="#ececec"/>
<rect x="119.8" y="1050.0" width="20.2" height="227.4" fill="#808080"/>
<rect x="184.1" y="1097.5" width="21.5" height="179.9" fill="#efefef"/>
<rect x="187.1" y="1100.5" width="17.0" height="176.9" fill="#d9d9d9"/>
<rect x="225.8" y="1017.4" width="1.2" height="260.0" fill="#ececec"/>
<rect x="205.6" y="1017.4" width="20.2" height="260.0" fill="#808080"/>
<rect x="270.6" y="1108.5" width="21.5" height="168.9" fill="#efefef"/>
<rect x="273.6" y="1111.5" width="17.0" height="165.9" fill="#d9d9d9"/>
<rect x="312.3" y="1083.4" width="1.2" height="194.0" fill="#ececec"/>
<rect x="292.1" y="1083.4" width="20.2" height="194.0" fill="#808080"/>
<rect x="356.7" y="1126.5" width="21.6" height="150.9" fill="#efefef"/>
<rect x="359.7" y="1129.5" width="17.1" height="147.9" fill="#d9d9d9"/>
<rect x="398.5" y="1120.8" width="1.2" height="156.6" fill="#ececec"/>
<rect x="378.3" y="1120.8" width="20.2" height="156.6" fill="#808080"/>
<rect x="443.2" y="1159.5" width="21.5" height="117.9" fill="#efefef"/>
<rect x="446.2" y="1162.5" width="17.0" height="114.9" fill="#d9d9d9"/>
<rect x="484.9" y="1167.4" width="1.2" height="110.0" fill="#ececec"/>
<rect x="464.7" y="1167.4" width="20.2" height="110.0" fill="#808080"/>
<line x1="104.8" y1="1104.5" x2="114.2" y2="1104.5" stroke="#000" stroke-width="2.0"/>
<line x1="104.8" y1="1128.5" x2="114.2" y2="1128.5" stroke="#000" stroke-width="2.0"/>
<line x1="109.5" y1="1104.5" x2="109.5" y2="1128.5" stroke="#000" stroke-width="2.0"/>
<line x1="125.8" y1="1028.5" x2="135.2" y2="1028.5" stroke="#000" stroke-width="2.0"/>
<line x1="125.8" y1="1072.5" x2="135.2" y2="1072.5" stroke="#000" stroke-width="2.0"/>
<line x1="130.5" y1="1028.5" x2="130.5" y2="1072.5" stroke="#000" stroke-width="2.0"/>
<line x1="190.8" y1="1070.5" x2="200.2" y2="1070.5" stroke="#000" stroke-width="2.0"/>
<line x1="190.8" y1="1125.5" x2="200.2" y2="1125.5" stroke="#000" stroke-width="2.0"/>
<line x1="195.5" y1="1070.5" x2="195.5" y2="1125.5" stroke="#000" stroke-width="2.0"/>
<line x1="211.8" y1="1004.5" x2="221.2" y2="1004.5" stroke="#000" stroke-width="2.0"/>
<line x1="211.8" y1="1031.5" x2="221.2" y2="1031.5" stroke="#000" stroke-width="2.0"/>
<line x1="216.5" y1="1004.5" x2="216.5" y2="1031.5" stroke="#000" stroke-width="2.0"/>
<line x1="276.8" y1="1097.5" x2="286.2" y2="1097.5" stroke="#000" stroke-width="2.0"/>
<line x1="276.8" y1="1121.5" x2="286.2" y2="1121.5" stroke="#000" stroke-width="2.0"/>
<line x1="281.5" y1="1097.5" x2="281.5" y2="1121.5" stroke="#000" stroke-width="2.0"/>
<line x1="297.8" y1="1074.5" x2="307.2" y2="1074.5" stroke="#000" stroke-width="2.0"/>
<line x1="297.8" y1="1095.5" x2="307.2" y2="1095.5" stroke="#000" stroke-width="2.0"/>
<line x1="302.5" y1="1074.5" x2="302.5" y2="1095.5" stroke="#000" stroke-width="2.0"/>
<line x1="362.8" y1="1100.5" x2="372.2" y2="1100.5" stroke="#000" stroke-width="2.0"/>
<line x1="362.8" y1="1152.5" x2="372.2" y2="1152.5" stroke="#000" stroke-width="2.0"/>
<line x1="367.5" y1="1100.5" x2="367.5" y2="1152.5" stroke="#000" stroke-width="2.0"/>
<line x1="383.8" y1="1108.5" x2="393.2" y2="1108.5" stroke="#000" stroke-width="2.0"/>
<line x1="383.8" y1="1134.5" x2="393.2" y2="1134.5" stroke="#000" stroke-width="2.0"/>
<line x1="388.5" y1="1108.5" x2="388.5" y2="1134.5" stroke="#000" stroke-width="2.0"/>
<line x1="449.8" y1="1149.5" x2="459.2" y2="1149.5" stroke="#000" stroke-width="2.0"/>
<line x1="449.8" y1="1172.5" x2="459.2" y2="1172.5" stroke="#000" stroke-width="2.0"/>
<line x1="454.5" y1="1149.5" x2="454.5" y2="1172.5" stroke="#000" stroke-width="2.0"/>
<line x1="469.8" y1="1155.5" x2="479.2" y2="1155.5" stroke="#000" stroke-width="2.0"/>
<line x1="469.8" y1="1181.5" x2="479.2" y2="1181.5" stroke="#000" stroke-width="2.0"/>
<line x1="474.5" y1="1155.5" x2="474.5" y2="1181.5" stroke="#000" stroke-width="2.0"/>
<line x1="87.0" y1="905.2" x2="87.0" y2="1278.8" stroke="#000" stroke-width="2.8"/>
<line x1="517.5" y1="905.2" x2="517.5" y2="1278.8" stroke="#000" stroke-width="2.8"/>
<line x1="85.6" y1="1277.4" x2="522.0" y2="1277.4" stroke="#000" stroke-width="2.8"/>
<line x1="81.5" y1="1277.4" x2="87.0" y2="1277.4" stroke="#000" stroke-width="2.6"/>
<line x1="517.5" y1="1277.4" x2="523.0" y2="1277.4" stroke="#000" stroke-width="2.6"/>
<text x="72.0" y="1283.2" font-size="17.2" text-anchor="end" >0</text>
<text x="532.6" y="1283.2" font-size="17.2" text-anchor="start" >0</text>
<line x1="81.5" y1="1203.2" x2="87.0" y2="1203.2" stroke="#000" stroke-width="2.6"/>
<line x1="517.5" y1="1203.2" x2="523.0" y2="1203.2" stroke="#000" stroke-width="2.6"/>
<text x="72.0" y="1209.0" font-size="17.2" text-anchor="end" >0.7</text>
<text x="532.6" y="1209.0" font-size="17.2" text-anchor="start" >0.7</text>
<line x1="81.5" y1="1129.0" x2="87.0" y2="1129.0" stroke="#000" stroke-width="2.6"/>
<line x1="517.5" y1="1129.0" x2="523.0" y2="1129.0" stroke="#000" stroke-width="2.6"/>
<text x="72.0" y="1134.8" font-size="17.2" text-anchor="end" >1.4</text>
<text x="532.6" y="1134.8" font-size="17.2" text-anchor="start" >1.4</text>
<line x1="81.5" y1="1054.9" x2="87.0" y2="1054.9" stroke="#000" stroke-width="2.6"/>
<line x1="517.5" y1="1054.9" x2="523.0" y2="1054.9" stroke="#000" stroke-width="2.6"/>
<text x="72.0" y="1060.7" font-size="17.2" text-anchor="end" >2.1</text>
<text x="532.6" y="1060.7" font-size="17.2" text-anchor="start" >2.1</text>
<line x1="81.5" y1="980.7" x2="87.0" y2="980.7" stroke="#000" stroke-width="2.6"/>
<line x1="517.5" y1="980.7" x2="523.0" y2="980.7" stroke="#000" stroke-width="2.6"/>
<text x="72.0" y="986.5" font-size="17.2" text-anchor="end" >2.8</text>
<text x="532.6" y="986.5" font-size="17.2" text-anchor="start" >2.8</text>
<line x1="81.5" y1="906.5" x2="87.0" y2="906.5" stroke="#000" stroke-width="2.6"/>
<line x1="517.5" y1="906.5" x2="523.0" y2="906.5" stroke="#000" stroke-width="2.6"/>
<text x="72.0" y="912.3" font-size="17.2" text-anchor="end" >3.5</text>
<text x="532.6" y="912.3" font-size="17.2" text-anchor="start" >3.5</text>
<line x1="87.0" y1="1277.4" x2="87.0" y2="1282.9" stroke="#000" stroke-width="2.6"/>
<line x1="173.1" y1="1277.4" x2="173.1" y2="1282.9" stroke="#000" stroke-width="2.6"/>
<line x1="259.2" y1="1277.4" x2="259.2" y2="1282.9" stroke="#000" stroke-width="2.6"/>
<line x1="345.3" y1="1277.4" x2="345.3" y2="1282.9" stroke="#000" stroke-width="2.6"/>
<line x1="431.4" y1="1277.4" x2="431.4" y2="1282.9" stroke="#000" stroke-width="2.6"/>
<line x1="517.5" y1="1277.4" x2="517.5" y2="1282.9" stroke="#000" stroke-width="2.6"/>
<text x="130.1" y="1305.8" font-size="17.2" text-anchor="middle" >10</text>
<text x="216.1" y="1305.8" font-size="17.2" text-anchor="middle" >20</text>
<text x="302.2" y="1305.8" font-size="17.2" text-anchor="middle" >32</text>
<text x="388.3" y="1305.8" font-size="17.2" text-anchor="middle" >40</text>
<text x="474.4" y="1305.8" font-size="17.2" text-anchor="middle" >48</text>
<text x="313.3" y="1337.8" font-size="20.6" text-anchor="middle" >Time (h)</text>
<text x="2.5" y="911.6" font-size="24.5" text-anchor="start" >(c)</text>
<text transform="translate(24.3,1101.9) rotate(-90)" font-size="21.1" text-anchor="middle"  textLength="328" lengthAdjust="spacing">Intracellular NADH (&#181;mol (DCW) <tspan font-size="0.58em" dy="-0.57em">-1</tspan><tspan dy="0.33em" dx="2.5">)</tspan></text>
<text transform="translate(592.3,1098.8) rotate(-90)" font-size="21.1" text-anchor="middle"  textLength="348" lengthAdjust="spacing">Intracellular NADPH (&#181;mol (DCW) <tspan font-size="0.58em" dy="-0.57em">-1</tspan><tspan dy="0.33em" dx="2.5">)</tspan></text>
<rect x="105.5" y="914.5" width="9" height="9" fill="#efefef"/><rect x="107.5" y="916.5" width="6.5" height="6.5" fill="#d9d9d9"/>
<text x="119.8" y="925.0" font-size="17" text-anchor="start" >NADH</text>
<rect x="250.8" y="914.5" width="9.5" height="9.5" fill="#808080"/>
<text x="264.2" y="925.0" font-size="17" text-anchor="start" >NADPH</text>
</svg>
</body></html>
